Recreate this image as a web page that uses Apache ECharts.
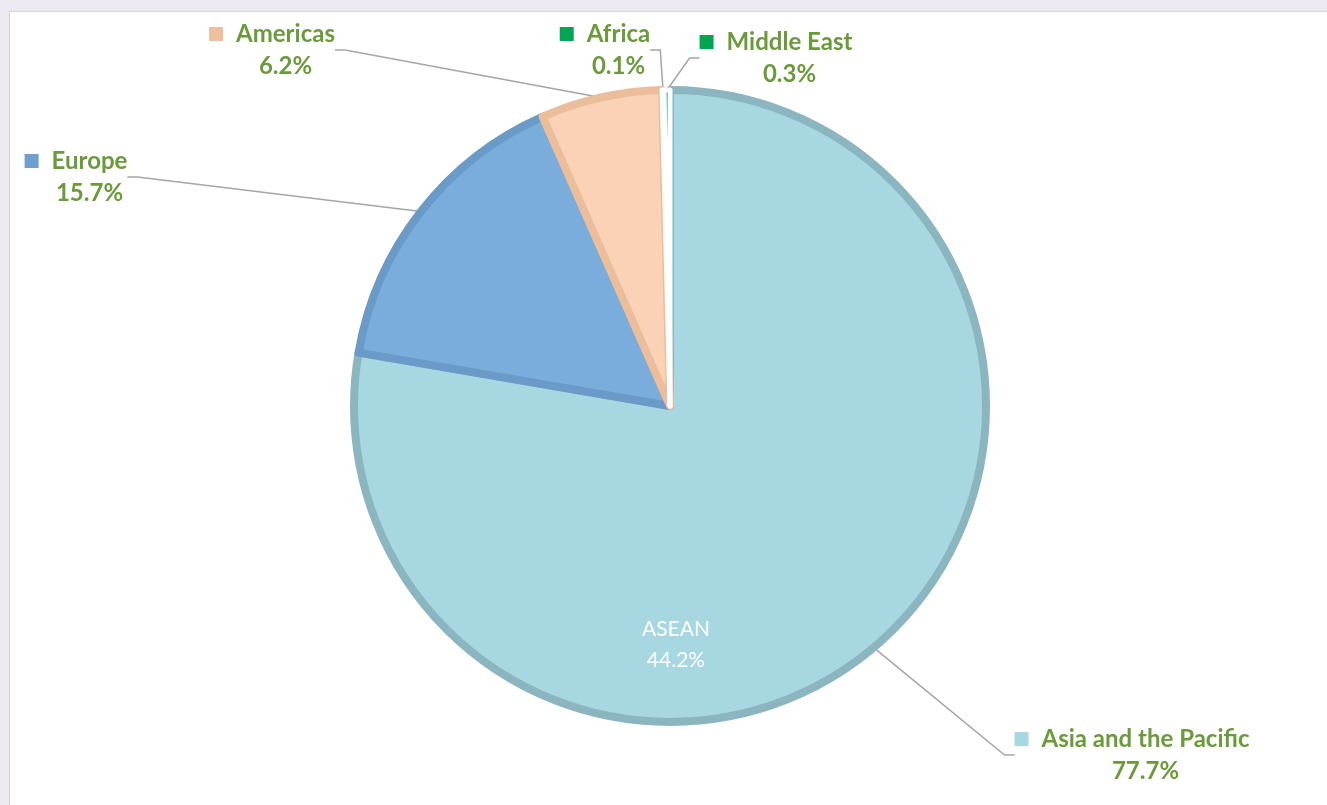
<!DOCTYPE html>
<html><head><meta charset="utf-8">
<script src="https://cdn.jsdelivr.net/npm/echarts@6/dist/echarts.min.js"></script>
<style>
html,body{margin:0;padding:0;width:1327px;height:805px;overflow:hidden;background:#EDE9F3;}
#panel{position:absolute;left:9px;top:11px;width:1318px;height:794px;background:#fff;border-left:1.5px solid #D6D6D6;border-top:1.5px solid #D6D6D6;}
#chart{position:absolute;left:0;top:0;width:1327px;height:805px;}
</style></head>
<body><div id="panel"></div><div id="chart"></div>
<script>
// ---- data ----
const regions = ['Asia and the Pacific', 'Europe', 'Americas', 'Africa', 'Middle East'];
const shares = [77.7, 15.7, 6.2, 0.1, 0.3];
const subLabel = 'ASEAN';
const subShare = 44.2;

// ---- styles ----
const fills   = ['#A7D8E2', '#7AADDC', '#FBD2B5', '#00A651', '#00A651'];
const borders = ['#8CB6BF', '#6A9AC8', '#ECBD9B', '#FFFFFF', '#FFFFFF'];
const markers = ['#A7D8E2', '#6F9FCE', '#EEBF9F', '#00A651', '#00A651'];
// label block centre x, top y
const labelPos = [[1132, 723], [76, 145], [272, 18], [605, 18], [776, 26]];
const green = '#6B9A3A';

const rich = {
  n: {fontFamily: 'Lato', fontWeight: 'bold', fontSize: 24, color: green, lineHeight: 32},
  p: {fontFamily: 'Lato', fontWeight: 'bold', fontSize: 24, color: green, lineHeight: 32},
  g: {width: 13, height: 10},
  s: {width: 27, height: 10}
};
markers.forEach((c, i) => { rich['m' + i] = {width: 14, height: 14, backgroundColor: c}; });

const data = regions.map((r, i) => ({
  name: r, value: shares[i],
  itemStyle: {color: fills[i], borderColor: borders[i], borderWidth: i > 2 ? 5 : 8},
  label: {formatter: '{m' + i + '|}{g|}{n|' + r + '}\n{s|}{p|' + shares[i].toFixed(1) + '%}'}
}));

const chart = echarts.init(document.getElementById('chart'), null, {renderer: 'canvas'});
chart.setOption({
  animation: false,
  backgroundColor: 'transparent',
  series: [{
    type: 'pie',
    center: [670, 406],
    radius: [0, 316],
    startAngle: 90,
    clockwise: true,
    data: data,
    label: {show: true, position: 'outside', align: 'center', rich: rich},
    labelLine: {show: true, length: 20, length2: 10, lineStyle: {color: '#A6A6A6', width: 1.5}},
    labelLayout: function (p) {
      const pos = labelPos[p.dataIndex];
      return {x: pos[0], y: pos[1], align: 'center', verticalAlign: 'top', moveOverlap: null};
    },
    emphasis: {disabled: true}
  }],
  graphic: [{
    type: 'text', x: 676, y: 614, z: 100,
    style: {text: subLabel + '\n' + subShare.toFixed(1) + '%', fill: '#FFFFFF', fontFamily: 'Lato', fontSize: 21, align: 'center', verticalAlign: 'top', lineHeight: 31}
  }]
});
</script></body></html>
